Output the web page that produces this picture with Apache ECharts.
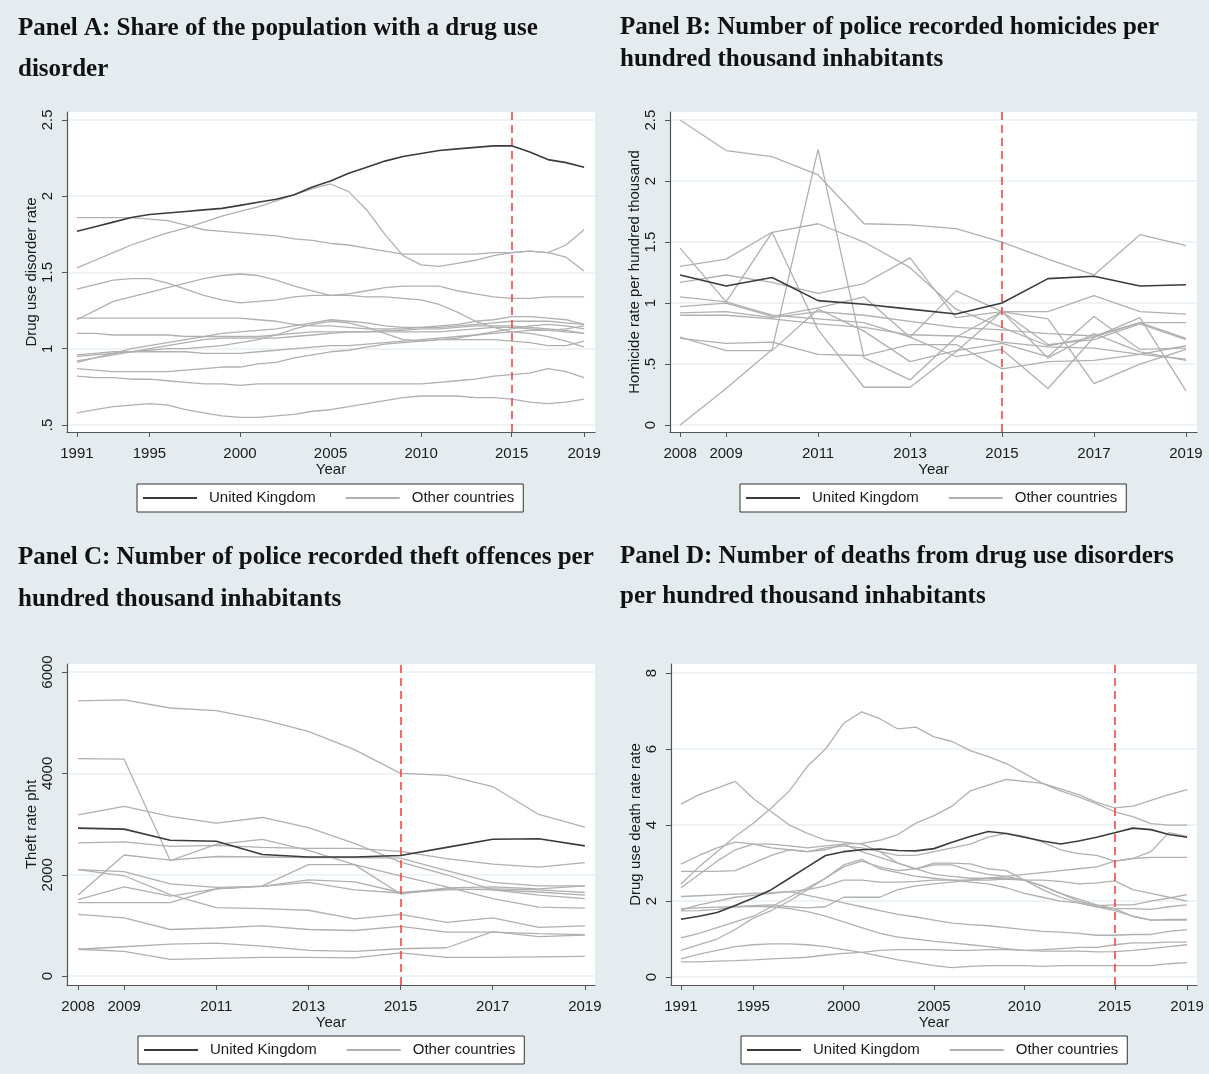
<!DOCTYPE html>
<html>
<head>
<meta charset="utf-8">
<script src="https://cdn.jsdelivr.net/npm/echarts@6/dist/echarts.min.js"></script>
<style>
html,body{margin:0;padding:0;background:#e4ecef;}
#chart{width:1209px;height:1074px;}
</style>
</head>
<body>
<div id="chart"></div>
<script>
// ---------- DATA ----------
const yearsLong = [1991,1992,1993,1994,1995,1996,1997,1998,1999,2000,2001,2002,2003,2004,2005,2006,2007,2008,2009,2010,2011,2012,2013,2014,2015,2016,2017,2018,2019];
const yearsShort = [2008,2009,2010,2011,2012,2013,2014,2015,2016,2017,2018,2019];

const ticksLong = [1991,1995,2000,2005,2010,2015,2019];
const ticksShort = [2008,2009,2011,2013,2015,2017,2019];
const yTicksA = [0.5,1,1.5,2,2.5];
const yTicksB = [0,0.5,1,1.5,2,2.5];
const yTicksC = [0,2000,4000,6000];
const yTicksD = [0,2,4,6,8];

// Panel A: drug use disorder rate
const ukA = [1.77,1.80,1.83,1.86,1.88,1.89,1.90,1.91,1.92,1.94,1.96,1.98,2.01,2.06,2.10,2.15,2.19,2.23,2.26,2.28,2.30,2.31,2.32,2.33,2.33,2.29,2.24,2.22,2.19];
const otherA1 = [1.53,1.58,1.63,1.68,1.72,1.76,1.79,1.83,1.87,1.90,1.93,1.97,2.01,2.05,2.08,2.03,1.91,1.75,1.61,1.55,1.54,1.56,1.58,1.61,1.63,1.64,1.63,1.68,1.78];
const otherA2 = [1.86,1.86,1.86,1.86,1.85,1.84,1.81,1.78,1.77,1.76,1.75,1.74,1.72,1.71,1.69,1.68,1.66,1.64,1.62,1.62,1.62,1.62,1.62,1.63,1.63,1.64,1.63,1.60,1.51];
const otherA3 = [1.39,1.42,1.45,1.46,1.46,1.43,1.39,1.35,1.32,1.30,1.31,1.32,1.34,1.35,1.35,1.36,1.38,1.40,1.41,1.41,1.41,1.38,1.36,1.34,1.33,1.33,1.34,1.34,1.34];
const otherA4 = [1.19,1.25,1.31,1.34,1.37,1.40,1.43,1.46,1.48,1.49,1.48,1.45,1.41,1.38,1.35,1.35,1.34,1.34,1.33,1.32,1.29,1.24,1.18,1.14,1.11,1.10,1.08,1.05,1.01];
const otherA5 = [1.20,1.20,1.20,1.20,1.20,1.20,1.20,1.20,1.20,1.20,1.19,1.18,1.16,1.15,1.15,1.14,1.13,1.13,1.13,1.14,1.14,1.15,1.16,1.17,1.18,1.18,1.18,1.17,1.16];
const otherA6 = [1.10,1.10,1.09,1.09,1.09,1.09,1.08,1.08,1.08,1.08,1.08,1.09,1.10,1.11,1.11,1.11,1.11,1.12,1.12,1.13,1.13,1.14,1.15,1.15,1.15,1.14,1.13,1.12,1.10];
const otherA7 = [0.91,0.94,0.97,1.00,1.02,1.04,1.06,1.08,1.10,1.11,1.12,1.13,1.15,1.17,1.19,1.18,1.17,1.15,1.14,1.14,1.15,1.16,1.18,1.19,1.21,1.21,1.20,1.19,1.16];
const otherA8 = [0.95,0.96,0.97,0.98,0.99,1.00,1.00,1.01,1.02,1.04,1.06,1.09,1.13,1.16,1.18,1.17,1.14,1.10,1.06,1.05,1.06,1.07,1.09,1.11,1.13,1.15,1.16,1.15,1.13];
const otherA9 = [0.96,0.97,0.98,0.98,0.98,0.98,0.98,0.97,0.97,0.97,0.98,0.99,1.00,1.01,1.02,1.02,1.03,1.04,1.05,1.06,1.07,1.08,1.09,1.10,1.11,1.12,1.12,1.13,1.15];
const otherA10 = [0.92,0.94,0.96,0.98,1.00,1.02,1.04,1.06,1.07,1.07,1.07,1.07,1.08,1.09,1.10,1.11,1.11,1.11,1.11,1.11,1.11,1.12,1.13,1.14,1.14,1.13,1.12,1.11,1.10];
const otherA11 = [0.87,0.86,0.85,0.85,0.85,0.85,0.86,0.87,0.88,0.88,0.90,0.91,0.94,0.96,0.98,0.99,1.01,1.03,1.04,1.05,1.06,1.06,1.06,1.06,1.05,1.04,1.02,1.02,1.05];
const otherA12 = [0.82,0.81,0.81,0.80,0.80,0.79,0.78,0.77,0.77,0.76,0.77,0.77,0.77,0.77,0.77,0.77,0.77,0.77,0.77,0.77,0.78,0.79,0.80,0.82,0.83,0.84,0.87,0.85,0.81];
const otherA13 = [0.58,0.60,0.62,0.63,0.64,0.63,0.60,0.58,0.56,0.55,0.55,0.56,0.57,0.59,0.60,0.62,0.64,0.66,0.68,0.69,0.69,0.69,0.68,0.68,0.67,0.65,0.64,0.65,0.67];

// Panel B: homicides per 100k
const ukB = [1.23,1.14,1.21,1.02,0.99,0.95,0.91,1.00,1.20,1.22,1.14,1.15];
const otherB1 = [2.50,2.25,2.20,2.05,1.65,1.64,1.61,1.50,1.36,1.23,1.56,1.47];
const otherB2 = [0.00,0.30,0.62,2.26,0.55,0.37,0.72,0.93,0.55,0.75,0.60,0.53];
const otherB3 = [1.45,1.01,1.58,0.78,0.31,0.31,0.60,0.93,0.87,0.34,0.50,0.62];
const otherB4 = [1.17,1.23,1.17,1.08,1.16,1.37,0.88,0.93,0.93,1.06,0.93,0.91];
const otherB5 = [1.30,1.36,1.58,1.65,1.50,1.29,0.95,0.80,0.65,0.72,0.84,0.71];
const otherB6 = [1.05,1.01,0.90,0.87,0.84,0.72,0.56,0.62,0.30,0.72,0.88,0.28];
const otherB7 = [0.97,1.00,0.89,0.96,1.05,0.72,1.10,0.93,0.66,0.70,0.83,0.70];
const otherB8 = [0.92,0.93,0.88,0.93,0.90,0.85,0.80,0.78,0.75,0.73,0.84,0.84];
const otherB9 = [0.90,0.90,0.87,0.83,0.80,0.74,0.73,0.68,0.64,0.63,0.58,0.54];
const otherB10 = [0.72,0.61,0.61,0.95,0.77,0.52,0.61,0.67,0.56,0.89,0.62,0.63];
const otherB11 = [0.71,0.67,0.68,0.58,0.57,0.66,0.66,0.46,0.52,0.53,0.58,0.65];

// Panel C: theft offences per 100k
const ukC = [2920,2900,2680,2660,2400,2350,2350,2380,2540,2700,2710,2570];
const otherC1 = [5430,5450,5290,5240,5060,4830,4470,4000,3960,3740,3190,2940];
const otherC2 = [4290,4280,2280,2600,2700,2480,2200,1980,1760,1530,1360,1340];
const otherC3 = [3180,3350,3150,3020,3130,2930,2620,2250,2000,1700,1600,1530];
const otherC4 = [2630,2650,2560,2580,2540,2520,2520,2460,2320,2210,2150,2240];
const otherC5 = [1600,2390,2290,2360,2350,2340,2340,2330,2080,1850,1780,1780];
const otherC6 = [2100,2060,1820,1750,1770,1850,1700,1640,1700,1720,1700,1650];
const otherC7 = [2100,1980,1610,1350,1330,1300,1130,1220,1060,1150,960,990];
const otherC8 = [1510,1760,1580,1720,1770,1900,1860,1650,1720,1700,1660,1600];
const otherC9 = [1450,1450,1450,1720,1780,2200,2200,1620,1740,1760,1720,1780];
const otherC10 = [1220,1150,920,950,990,920,900,980,870,870,840,820];
const otherC11 = [530,580,630,650,590,510,490,540,560,880,780,810];
const otherC12 = [530,490,330,350,370,370,360,460,370,370,380,390];

// Panel D: deaths from drug use disorders per 100k
const ukD = [1.52,1.60,1.70,1.88,2.08,2.30,2.60,2.90,3.20,3.30,3.35,3.37,3.33,3.32,3.38,3.55,3.70,3.83,3.78,3.68,3.58,3.50,3.58,3.68,3.80,3.92,3.88,3.75,3.68];
const otherD1 = [2.45,2.90,3.30,3.70,4.05,4.45,4.90,5.55,6.00,6.68,6.98,6.80,6.53,6.58,6.32,6.20,5.96,5.80,5.62,5.36,5.10,4.90,4.74,4.56,4.35,4.22,4.04,4.00,4.00];
const otherD2 = [4.55,4.80,4.97,5.15,4.70,4.35,4.00,3.78,3.60,3.55,3.50,3.30,3.00,2.85,2.70,2.65,2.60,2.60,2.60,2.55,2.40,2.20,2.05,1.90,1.80,1.60,1.50,1.50,1.50];
const otherD3 = [2.35,2.70,3.05,3.35,3.50,3.50,3.45,3.40,3.45,3.50,3.52,3.60,3.75,4.05,4.25,4.50,4.90,5.05,5.20,5.15,5.10,4.95,4.80,4.60,4.45,4.50,4.65,4.80,4.93];
const otherD4 = [2.97,3.20,3.40,3.55,3.50,3.40,3.35,3.30,3.35,3.50,3.30,3.15,3.00,2.85,3.00,3.00,2.98,2.85,2.80,2.55,2.30,2.10,1.95,1.85,1.80,1.80,1.78,1.85,1.90];
const otherD5 = [2.78,2.78,2.78,2.80,3.00,3.20,3.35,3.30,3.40,3.45,3.40,3.30,3.20,3.20,3.30,3.40,3.50,3.68,3.78,3.70,3.55,3.35,3.25,3.20,3.05,3.12,3.30,3.80,3.70];
const otherD6 = [1.76,1.90,2.00,2.10,2.15,2.20,2.25,2.30,2.40,2.55,2.55,2.50,2.50,2.52,2.55,2.55,2.55,2.55,2.58,2.55,2.55,2.52,2.45,2.48,2.53,2.30,2.20,2.10,2.00];
const otherD7 = [2.12,2.14,2.16,2.18,2.20,2.22,2.25,2.15,2.05,1.95,1.85,1.75,1.65,1.58,1.50,1.42,1.38,1.35,1.30,1.25,1.20,1.18,1.15,1.10,1.10,1.12,1.12,1.20,1.25];
const otherD8 = [1.74,1.75,1.78,1.85,1.88,1.90,1.85,1.82,1.85,2.10,2.10,2.10,2.30,2.40,2.45,2.50,2.55,2.60,2.65,2.70,2.75,2.80,2.85,2.90,3.05,3.12,3.15,3.15,3.15];
const otherD9 = [1.03,1.15,1.30,1.45,1.60,1.85,2.10,2.35,2.60,2.90,3.05,2.90,2.80,2.85,2.95,2.95,2.80,2.70,2.65,2.55,2.40,2.20,2.00,1.88,1.90,1.90,2.00,2.08,2.17];
const otherD10 = [0.70,0.85,1.00,1.25,1.55,1.75,2.00,2.30,2.60,2.95,3.10,2.85,2.75,2.65,2.60,2.55,2.50,2.45,2.35,2.20,2.10,2.00,1.95,1.85,1.75,1.60,1.50,1.52,1.52];
const otherD11 = [0.48,0.60,0.70,0.80,0.85,0.87,0.87,0.85,0.80,0.72,0.65,0.55,0.45,0.38,0.30,0.25,0.28,0.30,0.30,0.30,0.28,0.30,0.30,0.30,0.30,0.30,0.30,0.35,0.38];
const otherD12 = [0.40,0.40,0.42,0.43,0.45,0.48,0.50,0.52,0.58,0.62,0.65,0.70,0.72,0.72,0.72,0.70,0.70,0.72,0.72,0.70,0.72,0.75,0.78,0.78,0.85,0.90,0.90,0.92,0.92];
const otherD13 = [1.80,1.82,1.84,1.85,1.86,1.85,1.80,1.72,1.60,1.45,1.30,1.15,1.05,1.00,0.94,0.90,0.85,0.80,0.75,0.70,0.68,0.68,0.68,0.66,0.67,0.70,0.75,0.80,0.85];

const othersA = [otherA1,otherA2,otherA3,otherA4,otherA5,otherA6,otherA7,otherA8,otherA9,otherA10,otherA11,otherA12,otherA13];
const othersB = [otherB1,otherB2,otherB3,otherB4,otherB5,otherB6,otherB7,otherB8,otherB9,otherB10,otherB11];
const othersC = [otherC1,otherC2,otherC3,otherC4,otherC5,otherC6,otherC7,otherC8,otherC9,otherC10,otherC11,otherC12];
const othersD = [otherD1,otherD2,otherD3,otherD4,otherD5,otherD6,otherD7,otherD8,otherD9,otherD10,otherD11,otherD12,otherD13];

// ---------- STYLE ----------
const FONT = 'Liberation Sans, Arial, sans-serif';
const SERIF = 'Liberation Serif, Times New Roman, serif';
const UK_COLOR = '#3b3b3b';
const OTHER_COLOR = '#b0b0b0';
const RED = '#f24646';

const panels = [
  {grid:{left:67, top:112, width:528, height:320}, xMin:1990.45, xMax:2019.6, yMin:0.454, yMax:2.552,
   years:yearsLong, xTicks:ticksLong, yTicks:yTicksA, yName:'Drug use disorder rate', uk:ukA, others:othersA,
   yFmt:v => v===0.5 ? '.5' : String(v), legend:{left:137, top:484}},
  {grid:{left:670, top:112, width:527, height:320}, xMin:2007.78, xMax:2019.24, yMin:-0.057, yMax:2.566,
   years:yearsShort, xTicks:ticksShort, yTicks:yTicksB, yName:'Homicide rate per hundred thousand', uk:ukB, others:othersB,
   yFmt:v => v===0.5 ? '.5' : String(v), legend:{left:740, top:484}},
  {grid:{left:67, top:664, width:528, height:321}, xMin:2007.76, xMax:2019.22, yMin:-175, yMax:6158,
   years:yearsShort, xTicks:ticksShort, yTicks:yTicksC, yName:'Theft rate pht', uk:ukC, others:othersC,
   yFmt:v => String(v), legend:{left:138, top:1036}},
  {grid:{left:671, top:664, width:526, height:321}, xMin:1990.45, xMax:2019.55, yMin:-0.21, yMax:8.24,
   years:yearsLong, xTicks:ticksLong, yTicks:yTicksD, yName:'Drug use death rate rate', uk:ukD, others:othersD,
   yFmt:v => String(v), legend:{left:741, top:1036}}
];

const titles = [
  {text:'Panel A: Share of the population with a drug use\ndisorder', left:18, top:8, lh:41},
  {text:'Panel B: Number of police recorded homicides per\nhundred thousand inhabitants', left:620, top:12, lh:32},
  {text:'Panel C: Number of police recorded theft offences per\nhundred thousand inhabitants', left:18, top:537, lh:42},
  {text:'Panel D: Number of deaths from drug use disorders\nper hundred thousand inhabitants', left:620, top:537, lh:40}
];

const option = {
  backgroundColor:'#e4ecef',
  animation:false,
  title: titles.map(t => ({
    text:t.text, left:t.left, top:t.top, padding:0,
    textStyle:{fontFamily:SERIF, fontWeight:'bold', fontSize:25, color:'#111', lineHeight:t.lh}
  })),
  grid: panels.map(p => Object.assign({show:true, backgroundColor:'#ffffff', borderWidth:0, containLabel:false}, p.grid)),
  legend: panels.map(p => ({
    left:p.legend.left, top:p.legend.top,
    data:['United Kingdom','Other countries'],
    icon:'rect',
    backgroundColor:'#ffffff', borderColor:'#333', borderWidth:1, borderRadius:0,
    padding:[6,9,6,6], itemWidth:54, itemHeight:2, itemGap:30,
    textStyle:{fontFamily:FONT, fontSize:15, color:'#1a1a1a', padding:[0,0,0,7], lineHeight:16},
    selectedMode:false
  })),
  xAxis: panels.map((p,i) => ({
    type:'value', gridIndex:i, min:p.xMin, max:p.xMax,
    name:'Year', nameLocation:'middle', nameGap:29,
    nameTextStyle:{fontFamily:FONT, fontSize:15, color:'#1a1a1a'},
    axisLine:{show:true, onZero:false, lineStyle:{color:'#555', width:1.2}},
    axisTick:{show:true, length:5, customValues:p.xTicks, lineStyle:{color:'#555'}},
    axisLabel:{customValues:p.xTicks, fontFamily:FONT, fontSize:15, color:'#1a1a1a', margin:14, formatter:v=>String(v)},
    splitLine:{show:false}
  })),
  yAxis: panels.map((p,i) => ({
    type:'value', gridIndex:i, min:p.yMin, max:p.yMax,
    name:p.yName, nameLocation:'middle', nameGap:26, nameRotate:90,
    nameTextStyle:{fontFamily:FONT, fontSize:15, color:'#1a1a1a'},
    axisLine:{show:true, onZero:false, lineStyle:{color:'#555', width:1.2}},
    axisTick:{show:true, length:5, customValues:p.yTicks, lineStyle:{color:'#555'}},
    axisLabel:{customValues:p.yTicks, rotate:90, fontFamily:FONT, fontSize:15, color:'#1a1a1a', margin:12, formatter:p.yFmt},
    splitLine:{show:true, lineStyle:{color:'#e9f0f3', width:1.5}}
  })),
  series: []
};

panels.forEach((p,i) => {
  p.others.forEach(arr => {
    option.series.push({
      type:'line', name:'Other countries', xAxisIndex:i, yAxisIndex:i,
      symbol:'none', silent:true,
      lineStyle:{color:OTHER_COLOR, width:1.3}, itemStyle:{color:OTHER_COLOR},
      data: p.years.map((y,k) => [y, arr[k]])
    });
  });
  option.series.push({
    type:'line', name:'United Kingdom', xAxisIndex:i, yAxisIndex:i,
    symbol:'none', silent:true, z:5,
    lineStyle:{color:UK_COLOR, width:1.6}, itemStyle:{color:UK_COLOR},
    data: p.years.map((y,k) => [y, p.uk[k]]),
    markLine:{silent:true, symbol:['none','none'], label:{show:false},
      lineStyle:{color:RED, type:[8,5], width:1.6}, data:[{xAxis:2015}]}
  });
});

const chart = echarts.init(document.getElementById('chart'), null, {renderer:'canvas'});
chart.setOption(option);
</script>
</body>
</html>
